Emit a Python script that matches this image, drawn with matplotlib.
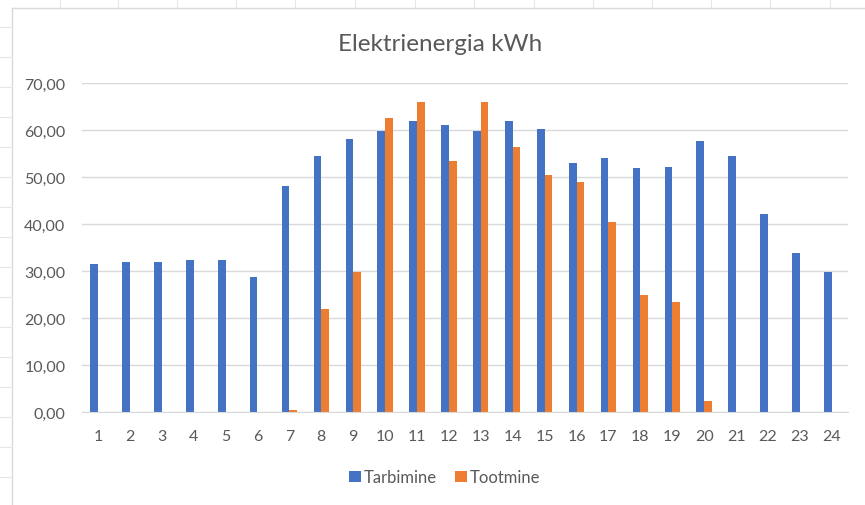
"""
Excel-style clustered bar chart: hourly electricity consumption vs production.
"""

import numpy as np
import matplotlib
matplotlib.use("Agg")
import matplotlib.pyplot as plt
from matplotlib.lines import Line2D
from matplotlib.ticker import FuncFormatter

hours = list(range(1, 25))
tarbimine = [31.6, 32.0, 32.0, 32.3, 32.3, 28.7, 48.2, 54.4, 58.1, 59.9, 62.0, 61.0,
             59.7, 62.0, 60.3, 53.1, 54.1, 51.9, 52.2, 57.7, 54.5, 42.1, 33.9, 29.9]
tootmine = [0.0, 0.0, 0.0, 0.0, 0.0, 0.0, 0.5, 21.9, 29.9, 62.6, 65.9, 53.5,
            65.9, 56.4, 50.5, 48.9, 40.4, 25.0, 23.5, 2.3, 0.0, 0.0, 0.0, 0.0]
series_names = ["Tarbimine", "Tootmine"]
title = "Elektrienergia kWh"

BLUE = "#4472C4"
ORANGE = "#ED7D31"
GRID = "#D9D9D9"
TEXT = "#595959"

plt.rcParams["font.family"] = ["Lato", "DejaVu Sans"]

fig = plt.figure(figsize=(8.65, 5.06), dpi=100)
ax = fig.add_axes([0.0948, 0.1838, 0.8852, 0.650])

x = np.arange(len(hours))
w = 0.24
ax.bar(x - w / 2, tarbimine, w, color=BLUE, label=series_names[0])
ax.bar(x + w / 2, tootmine, w, color=ORANGE, label=series_names[1])

ax.set_xlim(-0.5, len(hours) - 0.5)
ax.set_ylim(0, 70)
ax.set_yticks(np.arange(0, 71, 10))
ax.yaxis.set_major_formatter(FuncFormatter(lambda v, p: f"{v:.2f}".replace(".", ",")))
ax.set_xticks(x)
ax.set_xticklabels([str(h) for h in hours])
ax.grid(axis="y", color=GRID, linewidth=1)
ax.set_axisbelow(True)
for s in ["top", "right", "left"]:
    ax.spines[s].set_visible(False)
ax.spines["bottom"].set_color(GRID)
ax.tick_params(axis="both", length=0, colors=TEXT, labelsize=11.5)
ax.tick_params(axis="x", pad=12)
ax.tick_params(axis="y", pad=12)

fig.text(0.509, 0.913, title, ha="center", va="center", fontsize=17.5, color=TEXT)

leg = fig.legend(loc="center", bbox_to_anchor=(0.514, 0.055), ncol=2, frameon=False,
                 fontsize=12, handlelength=0.7, handleheight=0.7, handletextpad=0.15,
                 columnspacing=1.1, labelcolor=TEXT)

# chart frame and spreadsheet cell marks behind it
fx = 12 / 865
fy = 1 - 9 / 506
fig.add_artist(Line2D([fx, fx], [0, fy], color=GRID, lw=1))
fig.add_artist(Line2D([fx, 1], [fy, fy], color=GRID, lw=1))
for cx in [60, 118, 177, 236, 295, 355, 415, 474, 534, 593, 652, 711, 770, 830]:
    fig.add_artist(Line2D([cx / 865, cx / 865], [fy, 1], color="#E6E6E6", lw=0.8))
for ry in range(28, 506, 30):
    fig.add_artist(Line2D([0, fx], [1 - ry / 506, 1 - ry / 506], color="#E6E6E6", lw=0.8))

fig.savefig("out.png", dpi=100, facecolor="white")
